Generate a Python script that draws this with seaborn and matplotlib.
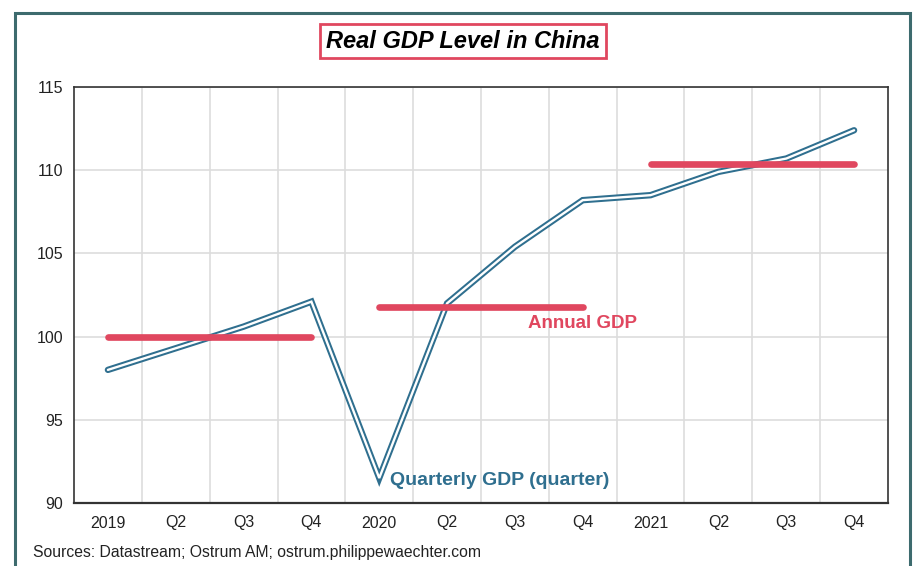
import matplotlib
matplotlib.use("Agg")
import matplotlib.pyplot as plt
import matplotlib.patheffects as pe
from matplotlib.patches import Rectangle
import seaborn as sns
import pandas as pd

quarter_labels = ["2019", "Q2", "Q3", "Q4", "2020", "Q2", "Q3", "Q4", "2021", "Q2", "Q3", "Q4"]
quarterly_gdp = [98.0, 99.3, 100.6, 102.1, 91.5, 102.0, 105.4, 108.2, 108.5, 109.9, 110.7, 112.4]
annual_years = ["2019", "2020", "2021"]
annual_gdp = [100.0, 101.8, 110.4]
annual_start = [0, 4, 8]
annual_end = [3, 7, 11]

TEAL = "#2F6F8F"
RED = "#E0475F"

sns.set_theme(style="white")
plt.rcParams["font.family"] = ["Liberation Sans", "DejaVu Sans"]

fig = plt.figure(figsize=(9.17, 5.66), dpi=100)
ax = fig.add_axes([74/917, 1-503/566, (888-74)/917, (503-87)/566])

df_q = pd.DataFrame({"x": range(len(quarterly_gdp)), "gdp": quarterly_gdp})
sns.lineplot(data=df_q, x="x", y="gdp", ax=ax, color="white", lw=1.7,
             path_effects=[pe.Stroke(linewidth=4.6, foreground=TEAL), pe.Normal()],
             solid_capstyle="round", solid_joinstyle="miter", zorder=3)

for s, e, v in zip(annual_start, annual_end, annual_gdp):
    d = pd.DataFrame({"x": [s, e], "y": [v, v]})
    sns.lineplot(data=d, x="x", y="y", ax=ax, color=RED, lw=4.8,
                 solid_capstyle="round", zorder=4)

ax.set_xlim(-0.5, 11.5)
ax.set_ylim(90, 115)
ax.set_yticks([90, 95, 100, 105, 110, 115])
ax.set_xticks(range(12))
ax.set_xticklabels(quarter_labels)
ax.set_xticks([i + 0.5 for i in range(11)], minor=True)
ax.grid(False)
ax.grid(True, which="minor", axis="x", color="#DDDDDD", lw=1.2)
ax.grid(True, which="major", axis="y", color="#DDDDDD", lw=1.2)
ax.set_axisbelow(True)
ax.tick_params(axis="both", which="both", length=0, labelsize=11.5, colors="#222222")
ax.tick_params(axis="x", pad=9)
ax.tick_params(axis="y", pad=8)
ax.set_xlabel("")
ax.set_ylabel("")
for sp in ax.spines.values():
    sp.set_color("#333333")
    sp.set_linewidth(1.2)
ax.spines["bottom"].set_linewidth(1.6)

ax.text(7.0, 100.76, "Annual GDP", color=RED, fontsize=13.5, fontweight="bold", ha="center", va="center")
ax.text(4.16, 91.38, "Quarterly GDP (quarter)", color=TEAL, fontsize=14, fontweight="bold", ha="left", va="center")

fig.text(463/917, 1-41/566, "Real GDP Level in China", fontsize=17, fontweight="bold", fontstyle="italic",
         ha="center", va="center", color="black",
         bbox=dict(boxstyle="square,pad=0.25", facecolor="white", edgecolor=RED, linewidth=2))

fig.text(33/917, 1-552/566, "Sources: Datastream; Ostrum AM; ostrum.philippewaechter.com", fontsize=11.3,
         ha="left", va="center", color="#222222")

fig.patches.append(Rectangle((15/917, -0.05), (910-15)/917, 1-13/566+0.05, transform=fig.transFigure,
                             fill=False, edgecolor="#3D6B6E", linewidth=2.2))

fig.savefig("out.png", dpi=100)
